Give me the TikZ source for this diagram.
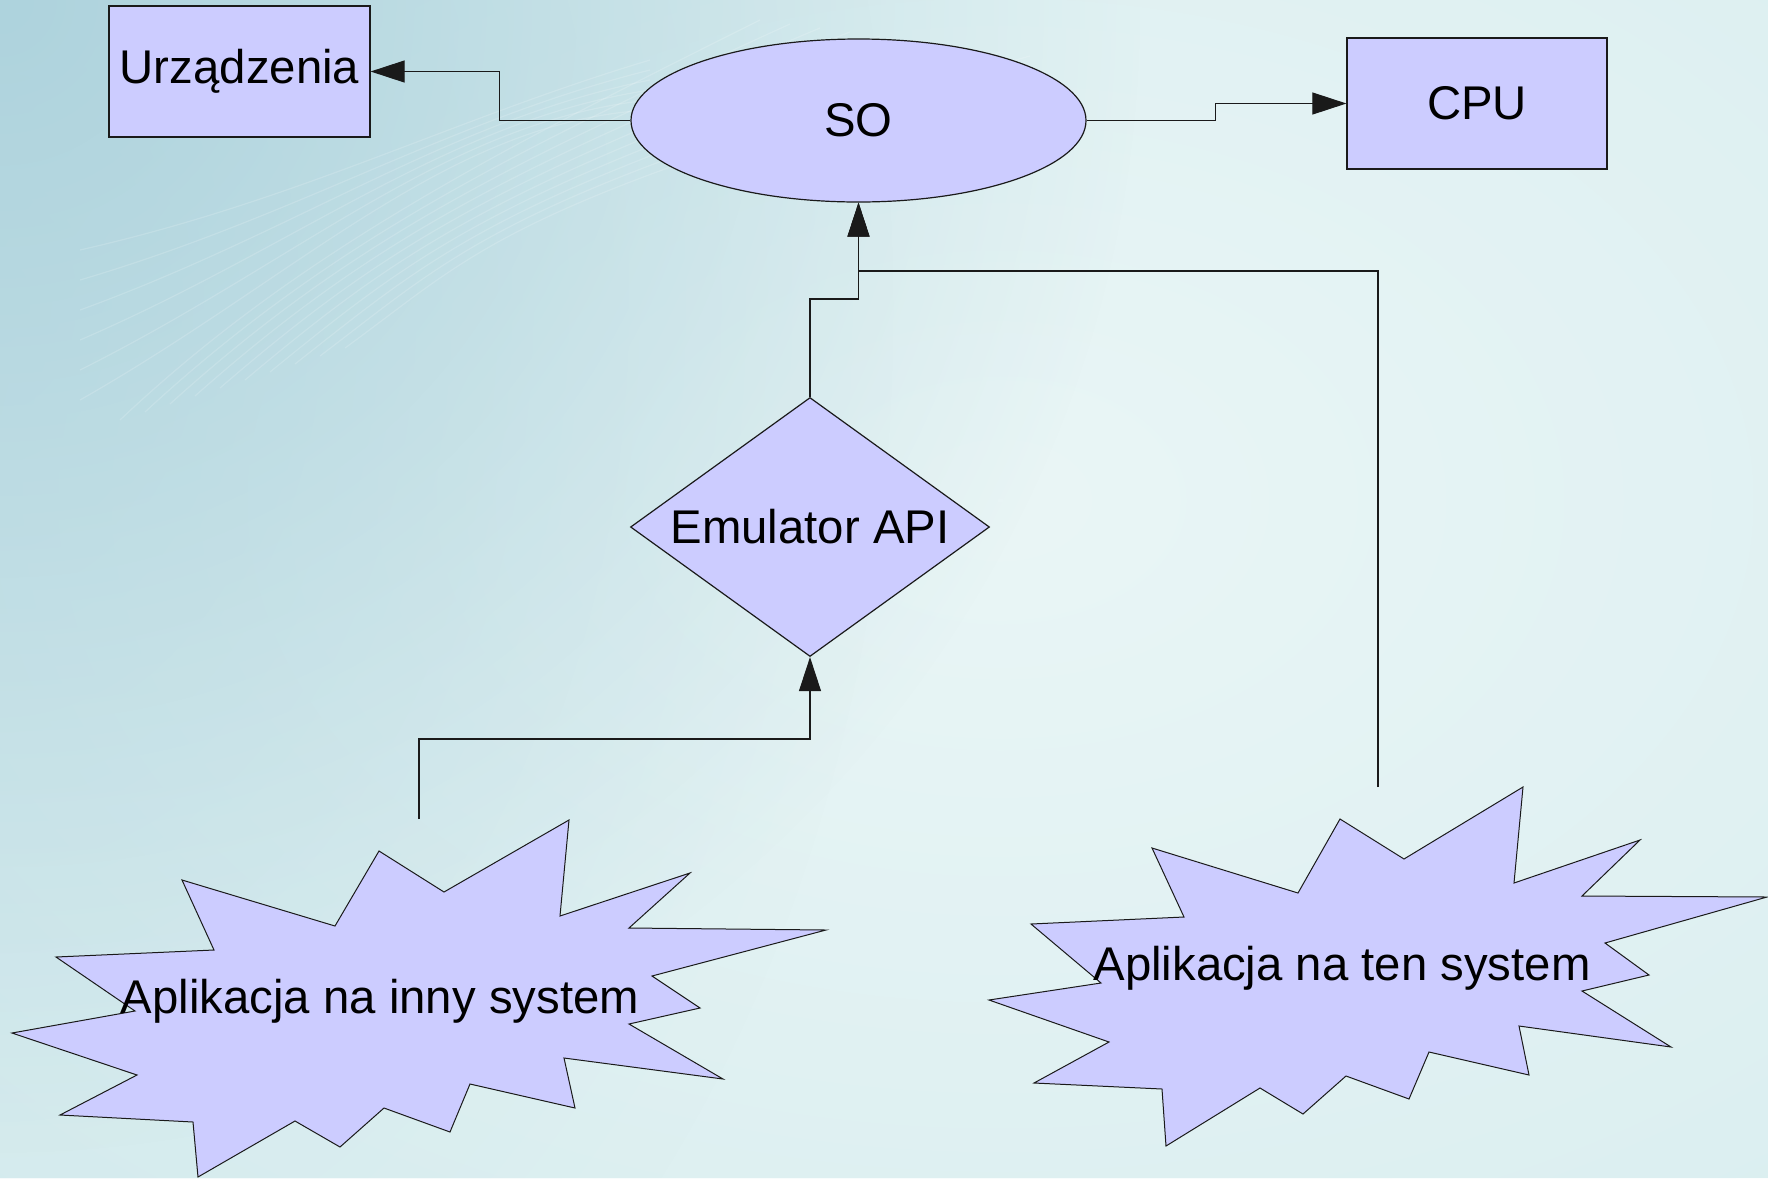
\documentclass[tikz,border=0pt]{standalone}
\usepackage{fontspec}
\setmainfont{Liberation Sans}
\usetikzlibrary{shapes.geometric,arrows.meta,fadings}
\definecolor{shapefill}{HTML}{CCCCFF}
\definecolor{edge}{HTML}{1A1A1A}
\definecolor{bgA}{HTML}{AED3DD}
\definecolor{bgB}{HTML}{EAF6F6}
\definecolor{bgBase}{HTML}{D9EEF0}
\tikzfading[name=softfade, inner color=transparent!0, outer color=transparent!100]
\begin{document}
\begin{tikzpicture}[x=1bp,y=-1bp,
  every node/.style={font=\fontsize{47.5}{56}\selectfont, text=black},
  shapebox/.style={draw=edge, fill=shapefill, line width=1.2bp, inner sep=0pt},
  conn/.style={draw=edge, line width=1.1bp},
  arr/.style={conn, -{Triangle[length=34bp,width=22bp]}},
  starshape/.style={draw=edge, fill=shapefill, line width=1bp, line join=miter},
  swirl/.style={white, opacity=0.16, line width=1.2bp}]
% background
\useasboundingbox (0,0) rectangle (1768,1178);
\fill[bgBase] (0,0) rectangle (1768,1178);
\begin{scope}
\clip (0,0) rectangle (1768,1178);
\fill[bgB, path fading=softfade] (1000,500) ellipse (1500 and 1000);
\fill[bgA, path fading=softfade, fill opacity=0.3] (0,300) ellipse (900 and 1300);
\fill[bgA, path fading=softfade] (0,0) circle (1150);
\end{scope}
% faint swirl lines
\foreach \i in {0,...,9}{
  \draw[swirl] (120+\i*25,420-\i*8) .. controls (300+\i*20,250) and (500,150+\i*6) .. (760+\i*30,20+\i*4);
}
\foreach \i in {0,...,5}{
  \draw[swirl] (80,250+\i*30) .. controls (300,200+\i*15) and (450,120) .. (650,60+\i*10);
}

% nodes
\node[shapebox, rectangle, minimum width=261bp, minimum height=131bp] (urz) at (239.5,71.5) {Urządzenia};
\node[shapebox, ellipse, minimum width=455bp, minimum height=163bp] (so) at (858.5,120.5) {SO};
\node[shapebox, rectangle, minimum width=260bp, minimum height=131bp] (cpu) at (1477,103.5) {CPU};
\node[shapebox, diamond, aspect=1.386, minimum width=359bp, minimum height=259bp] (emu) at (810,527) {Emulator API};

% starbursts
\path[starshape] (569,820) -- (560,916) -- (690,873) -- (629,928) -- (826,930) -- (652,976) -- (700,1008) -- (629,1024) -- (723,1079) -- (564,1058) -- (575,1108) -- (470,1084) -- (450,1132) -- (384,1108) -- (340,1147) -- (295,1121) -- (198,1177) -- (193,1122) -- (60,1115) -- (137,1075) -- (12,1033) -- (135,1011) -- (56,957) -- (214,950) -- (182,880) -- (335,926) -- (379,851) -- (444,892) -- cycle;
\node (inny) at (380,1001) {Aplikacja na inny system};
\coordinate (ltop) at (419,819);

\path[starshape] (1523,787) -- (1514,883) -- (1640,840) -- (1582,896) -- (1767,897) -- (1605,943) -- (1649,975) -- (1582,991) -- (1671,1047) -- (1519,1026) -- (1529,1075) -- (1429,1052) -- (1409,1099) -- (1346,1076) -- (1303,1114) -- (1260,1088) -- (1166,1146) -- (1162,1089) -- (1034,1083) -- (1109,1042) -- (989,1000) -- (1101,983) -- (1031,924) -- (1184,917) -- (1152,848) -- (1298,893) -- (1340,819) -- (1404,859) -- cycle;
\node (ten) at (1342,968) {Aplikacja na ten system};
\coordinate (rtop) at (1378,787);

% connector levels
\coordinate (lvA) at (0,299);
\coordinate (lvB) at (0,271);
\coordinate (lvC) at (0,739);

% connectors
\draw[arr] (so.west) -- ++(-131,0) |- (urz.east);
\draw[arr] (so.east) -- ++(129,0) |- (cpu.west);
\draw[arr] (emu.north) -- (emu.north |- lvA) -| (so.south);
\draw[arr] (rtop) -- (rtop |- lvB) -| (so.south);
\draw[arr] (ltop) -- (ltop |- lvC) -| (emu.south);
\end{tikzpicture}
\end{document}
